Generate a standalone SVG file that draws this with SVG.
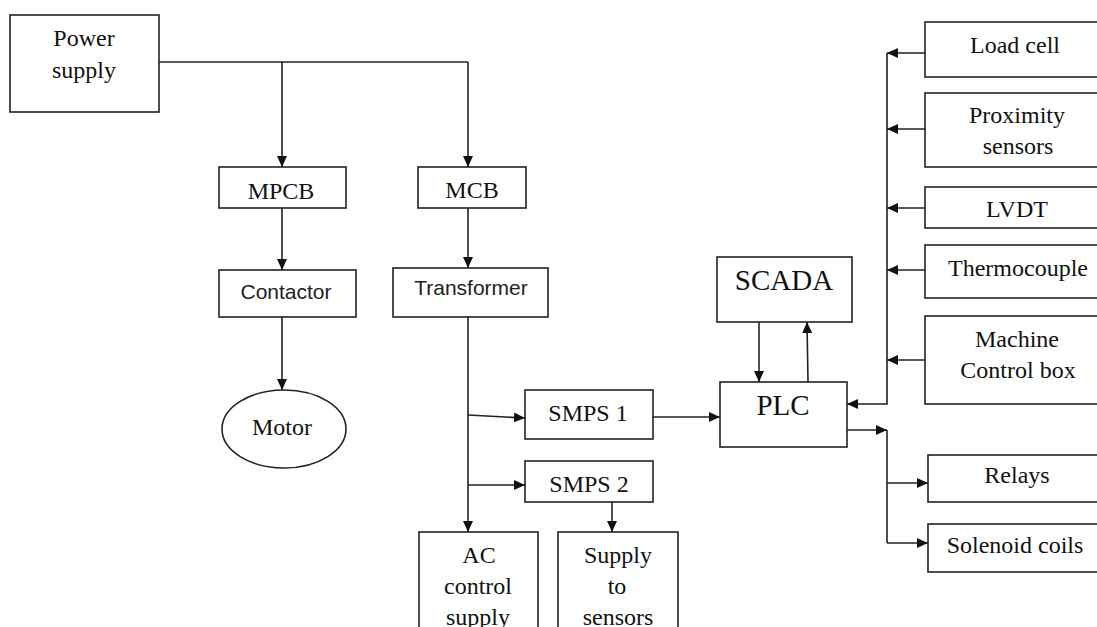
<svg xmlns="http://www.w3.org/2000/svg" width="1097" height="627" viewBox="0 0 1097 627">
<style>
.box{fill:#fff;stroke:#222;stroke-width:1.6}
.t{font-family:"Liberation Serif","Times New Roman",serif;font-size:24px;fill:#111;text-anchor:middle}
.s{font-family:"Liberation Sans",Arial,sans-serif;font-size:21px;fill:#222;text-anchor:middle}
.big{font-size:29px}
.c{fill:none;stroke:#222;stroke-width:1.6}
</style>
<defs>
<marker id="ah" markerUnits="userSpaceOnUse" markerWidth="12" markerHeight="10" refX="11" refY="5" orient="auto">
<path d="M0,0 L11,5 L0,10 Z" fill="#111"/>
</marker>
</defs>
<rect width="1097" height="627" fill="#fff"/>
<g id="connectors">
<path class="c" d="M159,62 H468"/>
<path class="c" d="M282,62 V167" marker-end="url(#ah)"/>
<path class="c" d="M468,62 V167" marker-end="url(#ah)"/>
<path class="c" d="M282,208 V270" marker-end="url(#ah)"/>
<path class="c" d="M282,317 V390" marker-end="url(#ah)"/>
<path class="c" d="M468,208 V268" marker-end="url(#ah)"/>
<path class="c" d="M468,317 V532" marker-end="url(#ah)"/>
<path class="c" d="M468,415 L525,418" marker-end="url(#ah)"/>
<path class="c" d="M468,485 H525" marker-end="url(#ah)"/>
<path class="c" d="M612,502 V532" marker-end="url(#ah)"/>
<path class="c" d="M653,417 H720" marker-end="url(#ah)"/>
<path class="c" d="M759,322 V382" marker-end="url(#ah)"/>
<path class="c" d="M808,382 L807,322" marker-end="url(#ah)"/>
<path class="c" d="M887,53 V404 H847" marker-end="url(#ah)"/>
<path class="c" d="M925,53 H887" marker-end="url(#ah)"/>
<path class="c" d="M925,129 H887" marker-end="url(#ah)"/>
<path class="c" d="M925,208 H887" marker-end="url(#ah)"/>
<path class="c" d="M925,270 H887" marker-end="url(#ah)"/>
<path class="c" d="M925,360 H887" marker-end="url(#ah)"/>
<path class="c" d="M847,430 H887" marker-end="url(#ah)"/>
<path class="c" d="M887,430 V543"/>
<path class="c" d="M887,483 H928" marker-end="url(#ah)"/>
<path class="c" d="M887,543 H928" marker-end="url(#ah)"/>
</g>
<g id="power-supply"><rect class="box" x="10" y="15" width="149" height="97"/><text class="t" x="84" y="46">Power</text><text class="t" x="84" y="78">supply</text></g>
<g id="mpcb"><rect class="box" x="219" y="167" width="127" height="41"/><text class="t" x="281" y="199">MPCB</text></g>
<g id="mcb"><rect class="box" x="418" y="167" width="108" height="41"/><text class="t" x="472" y="198">MCB</text></g>
<g id="contactor"><rect class="box" x="219" y="270" width="137" height="47"/><text class="s" x="286" y="299">Contactor</text></g>
<g id="transformer"><rect class="box" x="393" y="268" width="155" height="49"/><text class="s" x="471" y="295">Transformer</text></g>
<g id="motor"><ellipse class="box" cx="284" cy="429" rx="62" ry="39"/><text class="t" x="282" y="435">Motor</text></g>
<g id="smps1"><rect class="box" x="525" y="390" width="128" height="49"/><text class="t" x="588" y="421">SMPS 1</text></g>
<g id="smps2"><rect class="box" x="525" y="461" width="128" height="41"/><text class="t" x="589" y="492">SMPS 2</text></g>
<g id="ac-control-supply"><rect class="box" x="419" y="532" width="119" height="110"/><text class="t" x="479" y="563">AC</text><text class="t" x="478" y="594">control</text><text class="t" x="478" y="625">supply</text></g>
<g id="supply-to-sensors"><rect class="box" x="558" y="532" width="120" height="110"/><text class="t" x="618" y="563">Supply</text><text class="t" x="617" y="594">to</text><text class="t" x="618" y="625">sensors</text></g>
<g id="scada"><rect class="box" x="717" y="257" width="135" height="65"/><text class="t big" x="784" y="290">SCADA</text></g>
<g id="plc"><rect class="box" x="720" y="382" width="127" height="65"/><text class="t big" x="783" y="415">PLC</text></g>
<g id="load-cell"><rect class="box" x="925" y="22" width="180" height="55"/><text class="t" x="1015" y="53">Load cell</text></g>
<g id="proximity-sensors"><rect class="box" x="925" y="93" width="180" height="74"/><text class="t" x="1017" y="123">Proximity</text><text class="t" x="1018" y="154">sensors</text></g>
<g id="lvdt"><rect class="box" x="925" y="187" width="180" height="41"/><text class="t" x="1017" y="217">LVDT</text></g>
<g id="thermocouple"><rect class="box" x="925" y="245" width="180" height="53"/><text class="t" x="1018" y="276">Thermocouple</text></g>
<g id="machine-control-box"><rect class="box" x="925" y="316" width="180" height="88"/><text class="t" x="1017" y="347">Machine</text><text class="t" x="1018" y="378">Control box</text></g>
<g id="relays"><rect class="box" x="928" y="455" width="180" height="47"/><text class="t" x="1017" y="483">Relays</text></g>
<g id="solenoid-coils"><rect class="box" x="928" y="524" width="180" height="48"/><text class="t" x="1015" y="553">Solenoid coils</text></g>
</svg>
